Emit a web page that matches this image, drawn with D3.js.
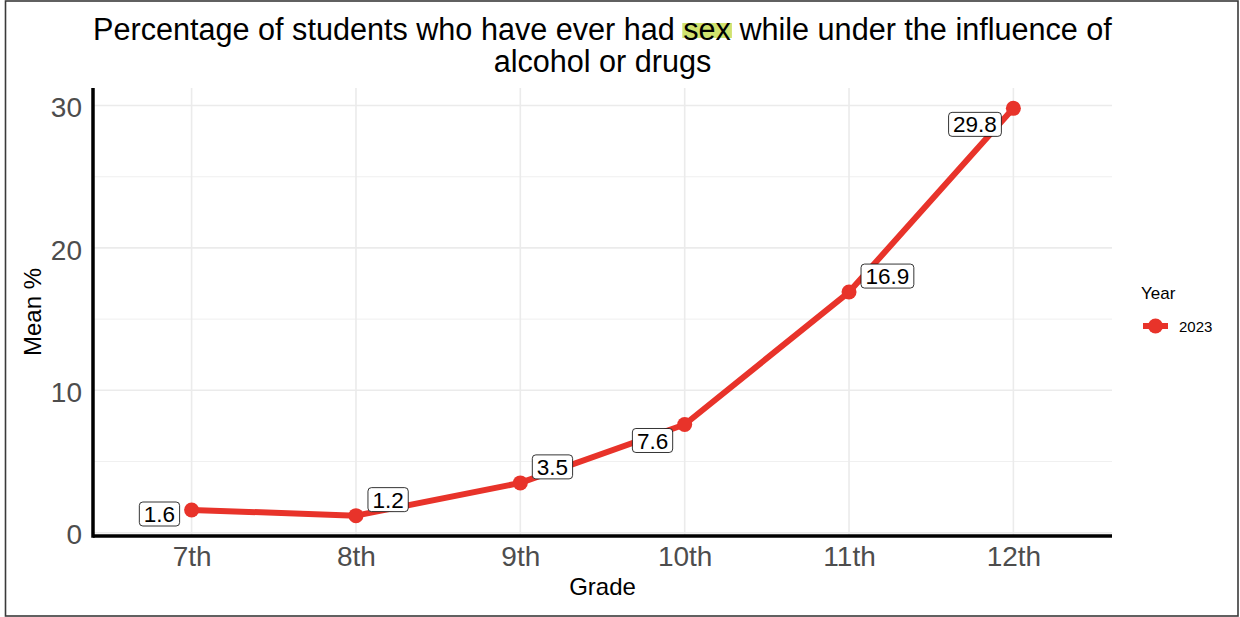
<html>
<head>
	<meta http-equiv="Content-Type" content="text/html; charset=UTF-8">
	<title>Sex under influence</title>
	<style>
		body { margin: 0; background: white; }
		text { font-family: "Liberation Sans", Arial, Helvetica, sans-serif; }
		.grid_major { stroke: #ebebeb; stroke-width: 1.6; }
		.grid_minor { stroke: #ebebeb; stroke-width: 0.8; }
		.tick_label { fill: #4d4d4d; font-size: 28px; }
		.axis_title { fill: black; font-size: 24px; }
	</style>
</head>
<body>
<script src="https://cdnjs.cloudflare.com/ajax/libs/d3/7.8.5/d3.min.js"></script>
<div id="chart"></div>
<script>

	// data
	var grades = ["7th", "8th", "9th", "10th", "11th", "12th"];
	var meanPct = [1.6, 1.2, 3.5, 7.6, 16.9, 29.8];
	var yTicks = [0, 10, 20, 30];
	var yMinor = [5, 15, 25];
	var years = ["2023"];

	var width = 1240;
	var height = 617;
	var red = "#e8332a";

	var svg = d3.select("#chart").append("svg")
		.attr("width", width)
		.attr("height", height);

	// frame around the whole image
	svg.append("rect")
		.attr("x", 5.5).attr("y", 1)
		.attr("width", 1232.5).attr("height", 615)
		.attr("fill", "white")
		.attr("stroke", "#3a3a3a")
		.attr("stroke-width", 1.6);

	var panel = {left: 93, right: 1112, top: 88, bottom: 536};

	var x = d3.scalePoint()
		.domain(grades)
		.range([panel.left, panel.right])
		.padding(0.6);

	// ggplot style 5% expansion of the data range
	var lo = d3.min(meanPct), hi = d3.max(meanPct);
	var pad = (hi - lo) * 0.05;
	var y = d3.scaleLinear()
		.domain([lo - pad, hi + pad])
		.range([panel.bottom, panel.top]);

	// grid
	var grid = svg.append("g");
	grid.selectAll(".grid_minor")
		.data(yMinor)
		.enter().append("line")
		.attr("class", "grid_minor")
		.attr("x1", panel.left).attr("x2", panel.right)
		.attr("y1", function(d) { return y(d); })
		.attr("y2", function(d) { return y(d); });
	grid.selectAll(".grid_h")
		.data(yTicks)
		.enter().append("line")
		.attr("class", "grid_major grid_h")
		.attr("x1", panel.left).attr("x2", panel.right)
		.attr("y1", function(d) { return y(d); })
		.attr("y2", function(d) { return y(d); });
	grid.selectAll(".grid_v")
		.data(grades)
		.enter().append("line")
		.attr("class", "grid_major grid_v")
		.attr("y1", panel.top).attr("y2", panel.bottom)
		.attr("x1", function(d) { return x(d); })
		.attr("x2", function(d) { return x(d); });

	// axes
	var xAxis = svg.append("g")
		.attr("transform", "translate(0," + panel.bottom + ")")
		.call(d3.axisBottom(x).tickSize(0).tickPadding(10));
	var yAxis = svg.append("g")
		.attr("transform", "translate(" + panel.left + ",0)")
		.call(d3.axisLeft(y).tickValues(yTicks).tickSize(0).tickPadding(11));

	[xAxis, yAxis].forEach(function(a) {
		a.select(".domain").remove();
		a.selectAll("text")
			.attr("class", "tick_label")
			.attr("font-family", null)
			.attr("font-size", null)
			.attr("fill", null);
	});
	xAxis.selectAll("text").attr("dy", "0.7em");
	yAxis.selectAll("text").attr("dy", "0.4em");

	svg.append("line")
		.attr("x1", panel.left).attr("x2", panel.right)
		.attr("y1", panel.bottom).attr("y2", panel.bottom)
		.attr("stroke", "black").attr("stroke-width", 3.5);
	svg.append("line")
		.attr("x1", panel.left).attr("x2", panel.left)
		.attr("y1", panel.top).attr("y2", panel.bottom + 1.75)
		.attr("stroke", "black").attr("stroke-width", 3.5);

	svg.append("text")
		.attr("class", "axis_title")
		.attr("x", (panel.left + panel.right) / 2)
		.attr("y", 595)
		.attr("text-anchor", "middle")
		.text("Grade");

	svg.append("text")
		.attr("class", "axis_title")
		.attr("transform", "translate(41," + (panel.top + panel.bottom) / 2 + ")rotate(-90)")
		.attr("text-anchor", "middle")
		.text("Mean %");

	// title, "sex" highlighted
	var cx = (panel.left + panel.right) / 2;
	var hl = svg.append("rect").attr("fill", "#d0e26e");
	var t1 = svg.append("text")
		.attr("x", cx).attr("y", 40)
		.attr("text-anchor", "middle")
		.attr("font-size", 30.6)
		.attr("fill", "black");
	t1.append("tspan").text("Percentage of students who have ever had ");
	t1.append("tspan").text("sex");
	t1.append("tspan").text(" while under the influence of");
	svg.append("text")
		.attr("x", cx).attr("y", 72)
		.attr("text-anchor", "middle")
		.attr("font-size", 30.6)
		.attr("fill", "black")
		.text("alcohol or drugs");

	var nChar = t1.node().textContent.indexOf("sex");
	var sx0 = t1.node().getStartPositionOfChar(nChar).x;
	var sx1 = t1.node().getEndPositionOfChar(nChar + 2).x;
	hl.attr("x", sx0 - 1).attr("width", sx1 - sx0 + 2)
		.attr("y", 23).attr("height", 15);

	// line + points
	var pts = grades.map(function(g, i) { return {grade: g, value: meanPct[i]}; });

	var line = d3.line()
		.x(function(d) { return x(d.grade); })
		.y(function(d) { return y(d.value); });

	svg.append("path")
		.datum(pts)
		.attr("d", line)
		.attr("fill", "none")
		.attr("stroke", red)
		.attr("stroke-width", 6)
		.attr("stroke-linejoin", "round");

	svg.selectAll(".pt")
		.data(pts)
		.enter().append("circle")
		.attr("class", "pt")
		.attr("cx", function(d) { return x(d.grade); })
		.attr("cy", function(d) { return y(d.value); })
		.attr("r", 7.5)
		.attr("fill", red);

	// labels: -1 = left/below the point, 1 = right/above (as placed by repel in the original)
	var labelSide = [-1, 1, 1, -1, 1, -1];
	var fmt = d3.format(".1f");
	var labels = svg.selectAll(".lbl")
		.data(pts)
		.enter().append("g")
		.attr("class", "lbl");

	labels.each(function(d, i) {
		var g = d3.select(this);
		var txt = g.append("text")
			.attr("font-size", 22.5)
			.attr("fill", "black")
			.attr("text-anchor", "middle")
			.attr("dy", "0.36em")
			.text(fmt(d.value));
		var w = txt.node().getComputedTextLength() + 9;
		var h = 24;
		var dir = labelSide[i];
		var lx = x(d.grade) + dir * (12 + w / 2);
		var ly = y(d.value) - dir * 16;
		ly = Math.min(ly, panel.bottom - 10 - h / 2);
		g.insert("rect", "text")
			.attr("x", lx - w / 2).attr("y", ly - h / 2)
			.attr("width", w).attr("height", h)
			.attr("rx", 3.5)
			.attr("fill", "white")
			.attr("stroke", "black")
			.attr("stroke-width", 0.8);
		txt.attr("x", lx).attr("y", ly);
	});

	// legend
	var legend = svg.append("g").attr("transform", "translate(1141,0)");
	legend.append("text")
		.attr("x", 0).attr("y", 299)
		.attr("font-size", 17)
		.attr("fill", "black")
		.text("Year");
	var key = legend.selectAll(".key")
		.data(years)
		.enter().append("g")
		.attr("class", "key")
		.attr("transform", function(d, i) { return "translate(0," + (326 + i * 24) + ")"; });
	key.append("line")
		.attr("x1", 2).attr("x2", 27)
		.attr("stroke", red).attr("stroke-width", 6);
	key.append("circle")
		.attr("cx", 14.5).attr("r", 7.5)
		.attr("fill", red);
	key.append("text")
		.attr("x", 38).attr("dy", "0.38em")
		.attr("font-size", 15)
		.attr("fill", "black")
		.text(function(d) { return d; });

</script>
</body>
</html>
